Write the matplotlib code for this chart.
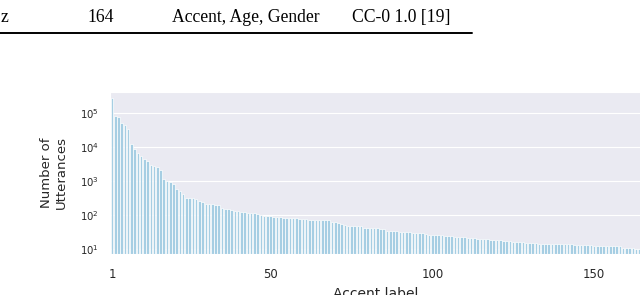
import numpy as np
import matplotlib
matplotlib.use("Agg")
import matplotlib.pyplot as plt
import seaborn as sns

# Utterances per accent, sorted (log scale)
counts = [
    265000, 78000, 77000, 49800, 43500, 33800, 11800, 8560, 6660, 5430,
    4350, 3870, 2960, 2760, 2580, 2060, 1120, 1000, 935, 800,
    570, 488, 398, 316, 315, 312, 290, 253, 236, 216,
    206, 204, 193, 191, 161, 147, 144, 137, 131, 126,
    120, 118, 115, 113, 110, 108, 98, 95, 93, 90,
    88, 87, 85, 82, 81, 81, 80, 79, 78, 76,
    74, 72, 71, 71, 70, 70, 69, 69, 62, 60,
    56, 54, 49, 48, 48, 48, 47, 47, 41, 41,
    40, 40, 40, 39, 39, 34, 33, 33, 33, 32,
    31, 31, 31, 29, 29, 29, 29, 28, 26, 26,
    26, 26, 25, 24, 24, 24, 23, 22, 22, 22,
    21, 21, 21, 20, 20, 19, 19, 18, 18, 18,
    18, 17, 17, 17, 16, 16, 16, 16, 15, 15,
    15, 15, 14,
] + [14] * 10 + [13] * 6 + [12] * 9 + [11] * 4 + [10] * 2

tick_pos = [0, 49, 99, 149]
tick_labels = ['1', '50', '100', '150']

# table row above the figure (part of the page)
table_row = ['z', '164', 'Accent, Age, Gender', 'CC-0 1.0 [19]']
table_x = [8.5, 101, 246, 401.5]

sns.set_style("darkgrid")

fig = plt.figure(figsize=(6.4, 2.95), dpi=100)
W, H = 640.0, 295.0
ax = fig.add_axes([110.4 / W, 1 - 254 / H, 530.6 / W, (254 - 91.7) / H])

x = np.arange(len(counts))
ax.bar(x, counts, width=0.8, color='#a6cee3', edgecolor='white', linewidth=0.5)
ax.set_yscale('log')
ax.set_ylim(7.1, 4.15e5)
ax.set_xlim(-0.5, len(counts) - 0.5)
ax.grid(False, axis='x')
ax.set_yticks([1e1, 1e2, 1e3, 1e4, 1e5])
ax.minorticks_off()
ax.set_xticks(tick_pos)
ax.set_xticklabels(tick_labels)
ax.tick_params(axis='x', labelsize=8.4, pad=10, length=0, colors='#262626')
ax.tick_params(axis='y', labelsize=7.3, pad=8, length=0, colors='#262626')
ax.set_xlabel('Accent label', fontsize=10, labelpad=4.5, color='#262626')
ax.set_ylabel('Number of\nUtterances', fontsize=9.5, labelpad=9, color='#262626')

# table fragment at the top of the page
for txt, px in zip(table_row, table_x):
    ha = 'right' if txt == 'z' else 'center'
    fig.text(px / W, 1 - 21.7 / H, txt, ha=ha, va='baseline',
             fontsize=12.7, family='Liberation Serif', color='black')
fig.add_artist(plt.Line2D([0, 472 / W], [1 - 33.3 / H] * 2,
                          color='black', linewidth=1.4))

fig.savefig('out.png', dpi=100, facecolor='white')
